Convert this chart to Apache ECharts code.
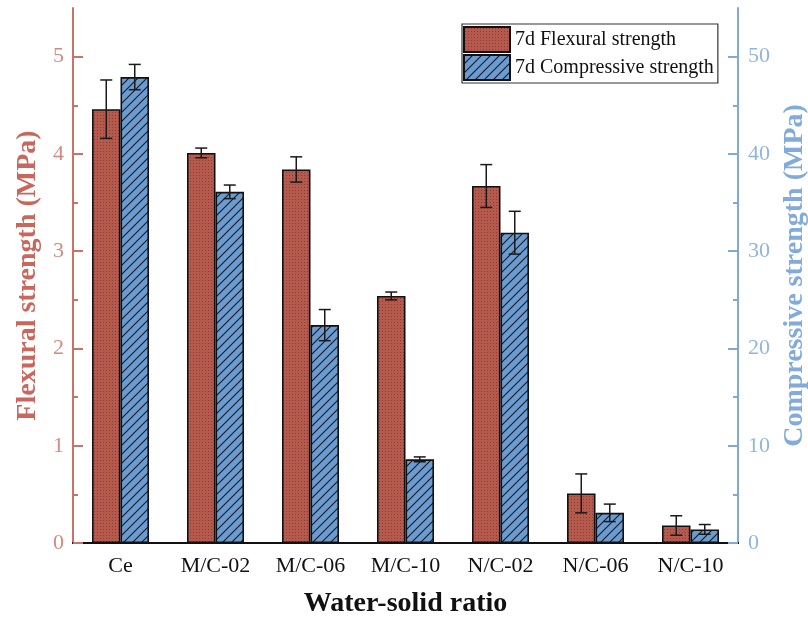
<!DOCTYPE html>
<html>
<head>
<meta charset="utf-8">
<script src="https://cdn.jsdelivr.net/npm/echarts@6/dist/echarts.min.js"></script>
<style>
  html, body { margin: 0; padding: 0; background: #fff; }
  #chart { width: 808px; height: 619px; }
</style>
</head>
<body>
<div id="chart"></div>
<script>
// data
var categories = ["Ce", "M/C-02", "M/C-06", "M/C-10", "N/C-02", "N/C-06", "N/C-10"];
var flexural = [4.46, 4.01, 3.84, 2.54, 3.67, 0.51, 0.18];
var flexuralErr = [0.30, 0.05, 0.13, 0.04, 0.22, 0.20, 0.10];
var compressive = [47.9, 36.1, 22.4, 8.6, 31.9, 3.1, 1.4];
var compressiveErr = [1.3, 0.7, 1.6, 0.25, 2.2, 0.9, 0.5];
var leftTicks = [0, 1, 2, 3, 4, 5];
var rightTicks = [0, 10, 20, 30, 40, 50];

var serif = "Liberation Serif";
var redAxis = "#c8726a", redText = "#d28a82";
var blueAxis = "#7ea9d9", blueText = "#92b5dd";

// fill patterns for the bars
function dots() {
  var c = document.createElement("canvas");
  c.width = 3; c.height = 3;
  var g = c.getContext("2d");
  g.fillStyle = "#b75a4e";
  g.fillRect(0, 0, 3, 3);
  g.fillStyle = "#8a3d35";
  g.fillRect(1, 1, 1, 1);
  return c;
}
function hatch() {
  var c = document.createElement("canvas");
  c.width = 9; c.height = 9;
  var g = c.getContext("2d");
  g.fillStyle = "#6c9bd0";
  g.fillRect(0, 0, 9, 9);
  g.strokeStyle = "#111a26";
  g.lineWidth = 1.1;
  g.beginPath();
  g.moveTo(0, 9); g.lineTo(9, 0);
  g.moveTo(-2, 2); g.lineTo(2, -2);
  g.moveTo(7, 11); g.lineTo(11, 7);
  g.stroke();
  return c;
}

// error bars, offset = position of bar centre in band widths
function errorBar(offset) {
  return function (params, api) {
    var i = api.value(0), v = api.value(1), e = api.value(2);
    var hi = api.coord([i, v + e]);
    var lo = api.coord([i, v - e]);
    var band = api.size([1, 0])[0];
    var x = hi[0] + band * offset;
    var half = 6;
    var style = { stroke: "#1a1a1a", lineWidth: 1.5, fill: null };
    return {
      type: "group",
      children: [
        { type: "line", shape: { x1: x, y1: hi[1], x2: x, y2: lo[1] }, style: style },
        { type: "line", shape: { x1: x - half, y1: hi[1], x2: x + half, y2: hi[1] }, style: style },
        { type: "line", shape: { x1: x - half, y1: lo[1], x2: x + half, y2: lo[1] }, style: style }
      ]
    };
  };
}

var flexErrData = flexural.map(function (v, i) { return [i, v, flexuralErr[i]]; });
var compErrData = compressive.map(function (v, i) { return [i, v, compressiveErr[i]]; });

var myChart = echarts.init(document.getElementById("chart"));
myChart.setOption({
  animation: false,
  backgroundColor: "#fff",
  grid: { left: 73, right: 70, top: 8, bottom: 76, containLabel: false, outerBoundsMode: "none" },
  legend: {
    orient: "vertical",
    left: 462,
    top: 24,
    borderColor: "#333",
    borderWidth: 1.2,
    padding: [2, 4, 2, 1],
    itemGap: 1,
    itemWidth: 46,
    itemHeight: 25,
    icon: "rect",
    textStyle: { fontFamily: serif, fontSize: 20, color: "#111" },
    data: ["7d Flexural strength", "7d Compressive strength"]
  },
  xAxis: [
    {
      type: "category",
      data: categories,
      position: "bottom",
      axisLine: { lineStyle: { color: "#111", width: 2 } },
      axisTick: { show: false },
      axisLabel: { fontFamily: serif, fontSize: 22, color: "#111", margin: 12 },
      name: "Water-solid ratio",
      nameLocation: "middle",
      nameGap: 47,
      nameTextStyle: { fontFamily: serif, fontSize: 28, fontWeight: "bold", color: "#111" }
    },
    {
      type: "category",
      data: categories,
      position: "top",
      axisLine: { lineStyle: { color: "#111", width: 2 } },
      axisTick: { show: false },
      axisLabel: { show: false }
    }
  ],
  yAxis: [
    {
      type: "value",
      min: 0, max: 5.5, interval: 1,
      position: "left",
      axisLine: { show: true, lineStyle: { color: redAxis, width: 2 } },
      axisTick: { show: true, inside: true, length: 10, customValues: leftTicks, lineStyle: { color: redAxis, width: 2 } },
      minorTick: { show: true, splitNumber: 2, length: 5, lineStyle: { color: redAxis, width: 2 } },
      splitLine: { show: false },
      axisLabel: { fontFamily: serif, fontSize: 22, color: redText, margin: 9, customValues: leftTicks },
      name: "Flexural strength (MPa)",
      nameLocation: "middle",
      nameGap: 24,
      nameTextStyle: { fontFamily: serif, fontSize: 28, fontWeight: "bold", color: "#c9675d" }
    },
    {
      type: "value",
      min: 0, max: 55, interval: 10,
      position: "right",
      axisLine: { show: true, lineStyle: { color: blueAxis, width: 2 } },
      axisTick: { show: true, inside: true, length: 10, customValues: rightTicks, lineStyle: { color: blueAxis, width: 2 } },
      minorTick: { show: true, splitNumber: 2, length: 5, lineStyle: { color: blueAxis, width: 2 } },
      splitLine: { show: false },
      axisLabel: { fontFamily: serif, fontSize: 22, color: blueText, margin: 10, customValues: rightTicks },
      name: "Compressive strength (MPa)",
      nameLocation: "middle",
      nameGap: 43,
      nameRotate: 90,
      nameTextStyle: { fontFamily: serif, fontSize: 28, fontWeight: "bold", color: "#82aadb" }
    }
  ],
  series: [
    {
      name: "7d Flexural strength",
      type: "bar",
      yAxisIndex: 0,
      data: flexural,
      barGap: "0%",
      barCategoryGap: "40%",
      itemStyle: { color: { image: dots(), repeat: "repeat" }, borderColor: "#111", borderWidth: 1.6 }
    },
    {
      name: "7d Compressive strength",
      type: "bar",
      yAxisIndex: 1,
      data: compressive,
      barGap: "0%",
      barCategoryGap: "40%",
      itemStyle: { color: { image: hatch(), repeat: "repeat" }, borderColor: "#111", borderWidth: 1.6 }
    },
    {
      type: "custom",
      yAxisIndex: 0,
      data: flexErrData,
      encode: { x: 0, y: 1 },
      renderItem: errorBar(-0.15),
      z: 5
    },
    {
      type: "custom",
      yAxisIndex: 1,
      data: compErrData,
      encode: { x: 0, y: 1 },
      renderItem: errorBar(0.15),
      z: 5
    }
  ]
});
</script>
</body>
</html>
